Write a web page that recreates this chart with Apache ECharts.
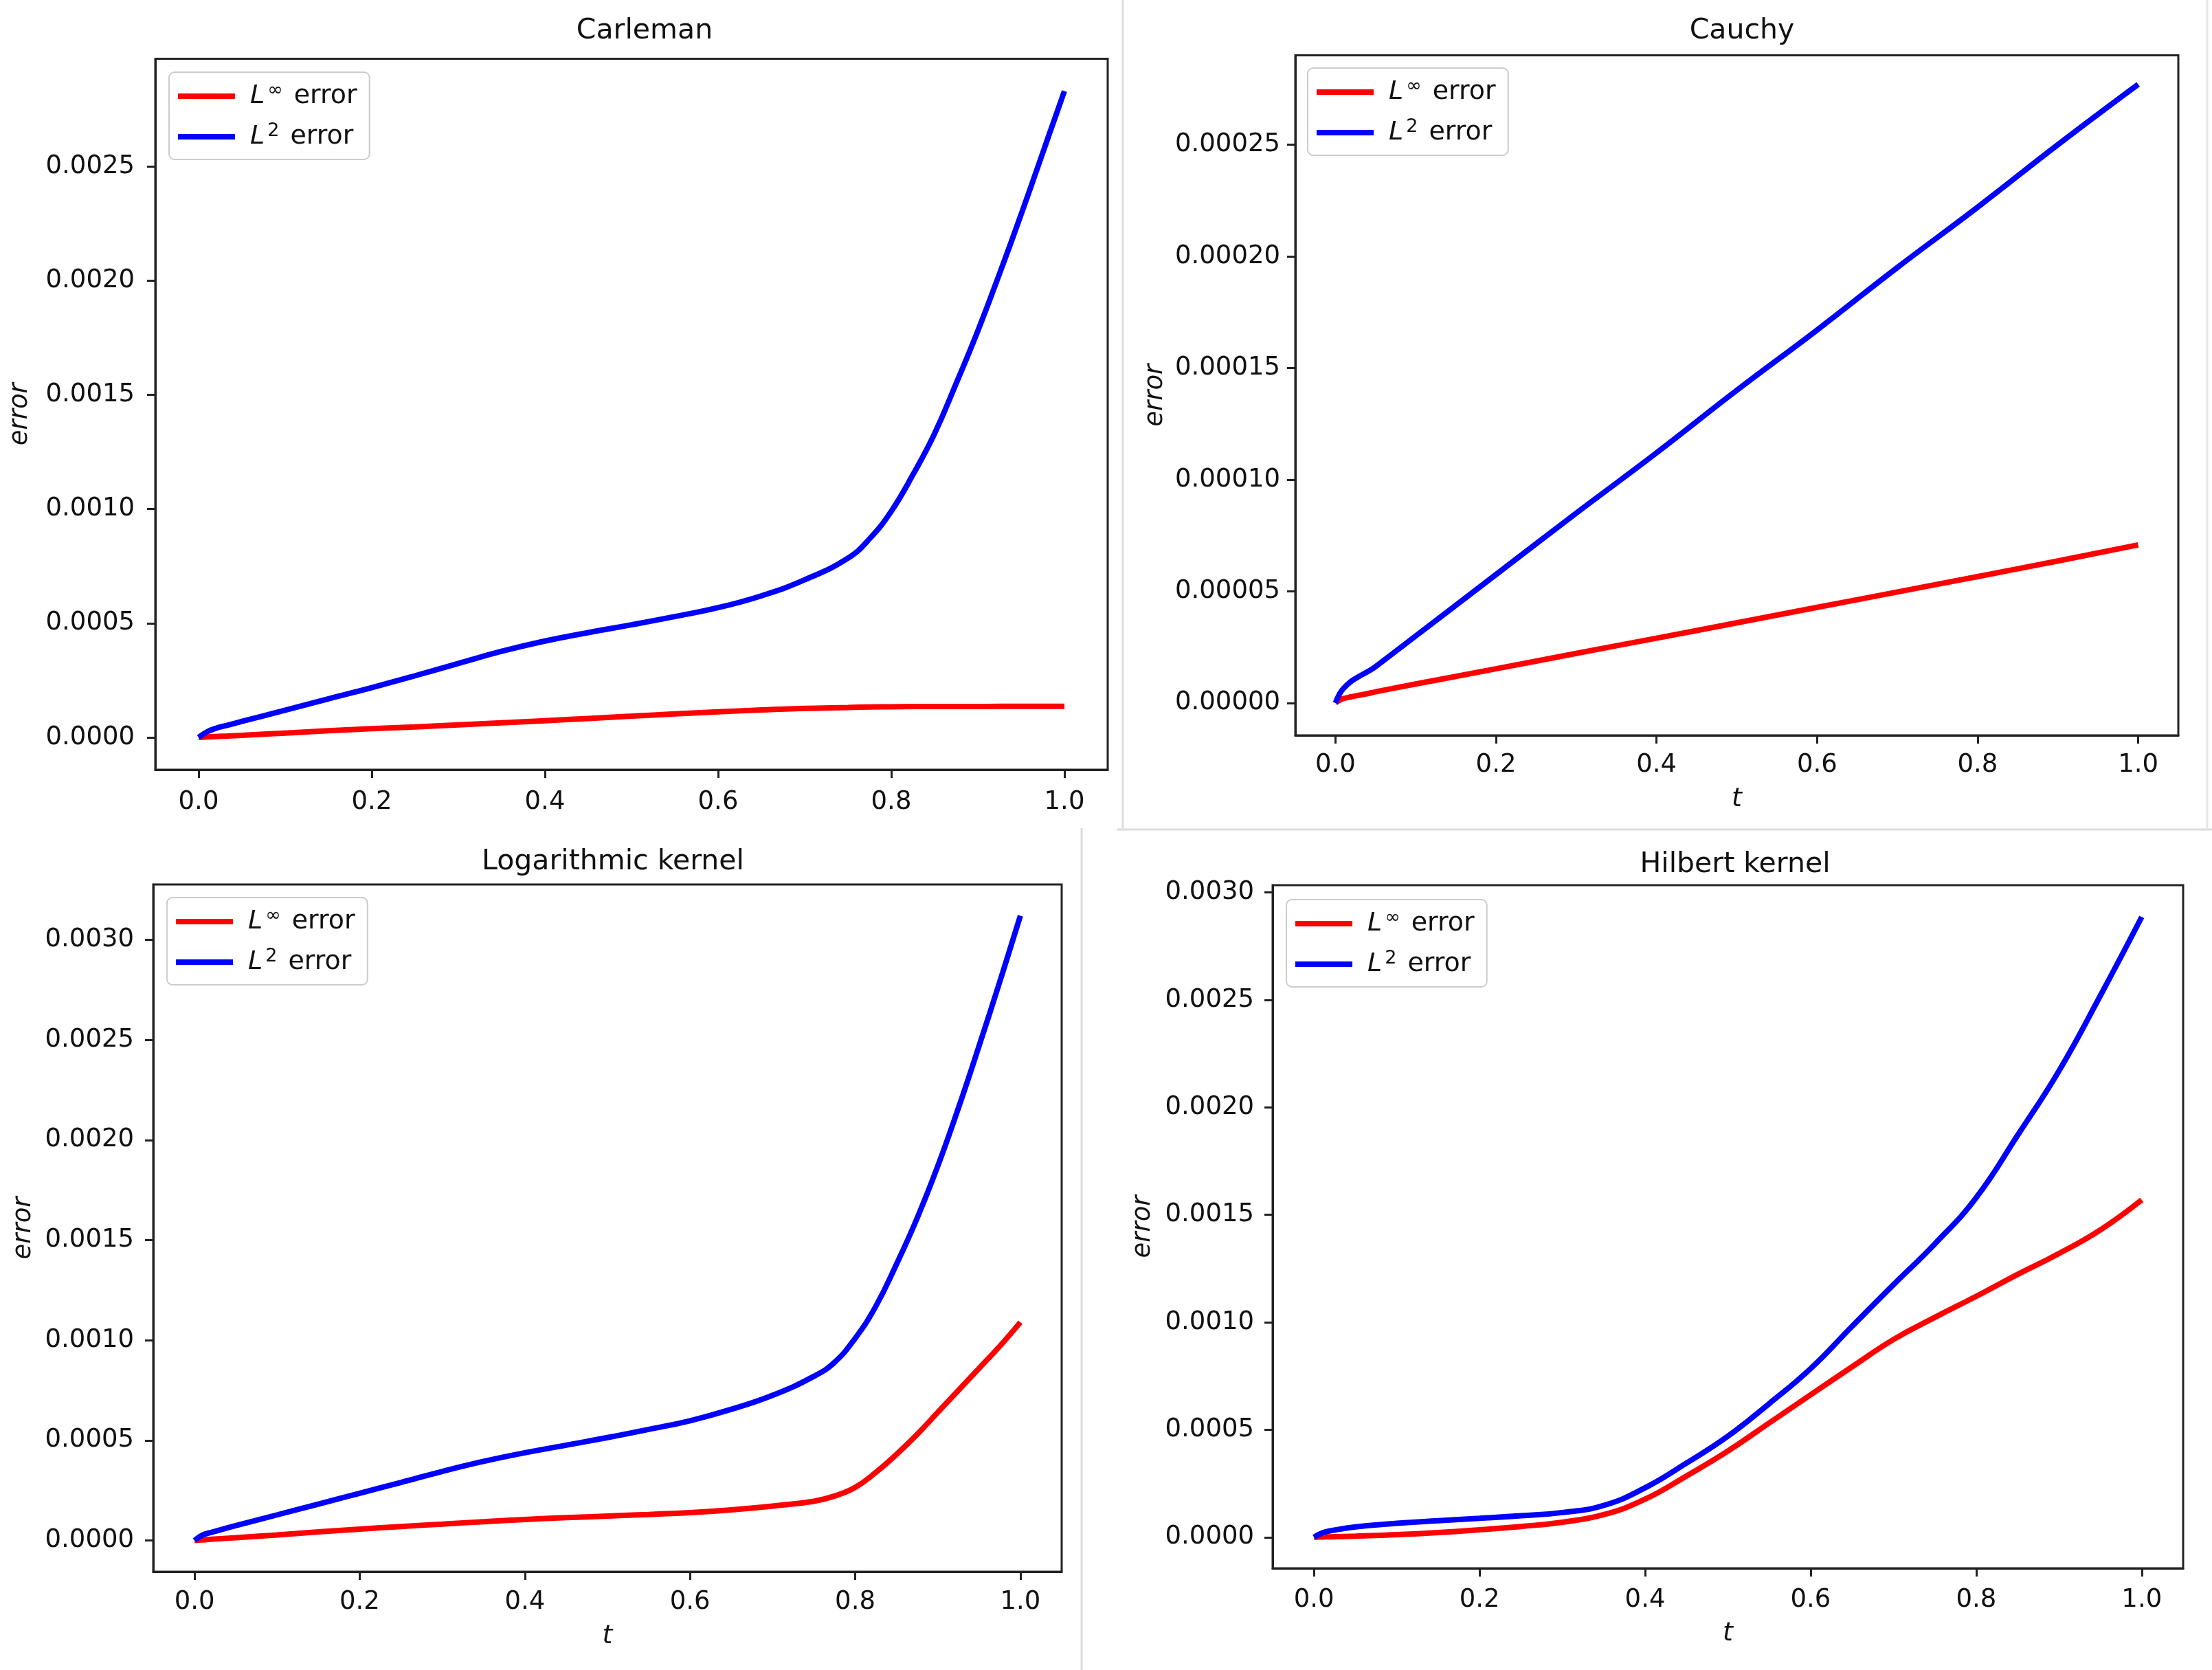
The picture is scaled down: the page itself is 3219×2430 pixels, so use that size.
<!DOCTYPE html>
<html>
<head>
<meta charset="utf-8">
<script src="https://cdn.jsdelivr.net/npm/echarts@6/dist/echarts.min.js"></script>
<style>
html,body{margin:0;padding:0;background:#ffffff;}
#chart{width:3219px;height:2430px;}
</style>
</head>
<body>
<div id="chart"></div>
<script>
// ---------- data ----------
const panelTitles = ['Carleman', 'Cauchy', 'Logarithmic kernel', 'Hilbert kernel'];
const xTickValues = [0, 0.2, 0.4, 0.6, 0.8, 1.0];

const carlemanT    = [0, 0.01, 0.02, 0.033, 0.05, 0.1, 0.15, 0.2, 0.25, 0.3, 0.35, 0.4, 0.45, 0.5, 0.55, 0.6, 0.65, 0.7, 0.75, 0.775, 0.8, 0.825, 0.85, 0.875, 0.9, 0.925, 0.95, 0.975, 1.0];
const carlemanLinf = [0, 0.000002, 0.000004, 0.000006, 0.000009, 0.000019, 0.000029, 0.000038, 0.000046, 0.000055, 0.000064, 0.000073, 0.000083, 0.000093, 0.000103, 0.000112, 0.00012, 0.000127, 0.000131, 0.000133, 0.000134, 0.000135, 0.000135, 0.000135, 0.000135, 0.000136, 0.000136, 0.000136, 0.000136];
const carlemanL2   = [0, 0.000025, 0.00004, 0.000053, 0.00007, 0.000119, 0.000169, 0.000218, 0.00027, 0.000324, 0.000377, 0.000422, 0.000459, 0.000493, 0.000529, 0.000568, 0.00062, 0.00069, 0.000785, 0.00087, 0.00099, 0.00115, 0.00133, 0.00155, 0.00178, 0.00203, 0.00229, 0.00256, 0.00283];
const carlemanYTicks = [0, 0.0005, 0.001, 0.0015, 0.002, 0.0025];

const cauchyT    = [0, 0.005, 0.01, 0.02, 0.03, 0.04, 0.05, 0.1, 0.2, 0.3, 0.4, 0.5, 0.6, 0.7, 0.8, 0.9, 1.0];
const cauchyLinf = [0, 0.0000012, 0.000002, 0.0000028, 0.0000035, 0.0000042, 0.000005, 0.0000085, 0.0000153, 0.0000222, 0.000029, 0.0000359, 0.0000428, 0.0000497, 0.0000566, 0.0000636, 0.0000708];
const cauchyL2   = [0, 0.000004, 0.0000065, 0.0000098, 0.000012, 0.000014, 0.0000163, 0.00003, 0.0000575, 0.000085, 0.000112, 0.00014, 0.000167, 0.000195, 0.000222, 0.00025, 0.000277];
const cauchyYTicks = [0, 0.00005, 0.0001, 0.00015, 0.0002, 0.00025];

const logT    = [0, 0.01, 0.02, 0.05, 0.1, 0.15, 0.2, 0.25, 0.3, 0.35, 0.4, 0.45, 0.5, 0.55, 0.6, 0.65, 0.7, 0.75, 0.775, 0.8, 0.825, 0.85, 0.875, 0.9, 0.925, 0.95, 0.975, 1.0];
const logLinf = [0, 0.000003, 0.000006, 0.000014, 0.000028, 0.000043, 0.000057, 0.00007, 0.000082, 0.000094, 0.000105, 0.000114, 0.000122, 0.00013, 0.000139, 0.000153, 0.000172, 0.000196, 0.000222, 0.000265, 0.00034, 0.00043, 0.00053, 0.00064, 0.00075, 0.00086, 0.00097, 0.00109];
const logL2   = [0, 0.000028, 0.00004, 0.000074, 0.000128, 0.000182, 0.000236, 0.00029, 0.000345, 0.000395, 0.000438, 0.000476, 0.000514, 0.000555, 0.000598, 0.000655, 0.000725, 0.00082, 0.00089, 0.00101, 0.00117, 0.00138, 0.00161, 0.00187, 0.00216, 0.00247, 0.00279, 0.00312];
const logYTicks = [0, 0.0005, 0.001, 0.0015, 0.002, 0.0025, 0.003];

const hilbertT    = [0, 0.01, 0.02, 0.05, 0.1, 0.15, 0.2, 0.25, 0.3, 0.35, 0.4, 0.45, 0.5, 0.55, 0.6, 0.65, 0.7, 0.75, 0.8, 0.85, 0.9, 0.95, 1.0];
const hilbertLinf = [0, 0.000001, 0.000002, 0.000005, 0.000012, 0.000022, 0.000035, 0.00005, 0.00007, 0.000105, 0.000177, 0.000285, 0.000401, 0.000532, 0.000663, 0.000793, 0.00092, 0.001023, 0.001121, 0.001223, 0.00132, 0.00143, 0.00157];
const hilbertL2   = [0, 0.00002, 0.00003, 0.000048, 0.000065, 0.000077, 0.000088, 0.0001, 0.000115, 0.000148, 0.00023, 0.000345, 0.00047, 0.000622, 0.000785, 0.000981, 0.001175, 0.001365, 0.00158, 0.00187, 0.00217, 0.00252, 0.002886];
const hilbertYTicks = [0, 0.0005, 0.001, 0.0015, 0.002, 0.0025, 0.003];

const seriesNames = ['L∞ error', 'L2 error'];

// ---------- layout ----------
const FONT = 'DejaVu Sans';
const INK = '#111111';
const panels = [
  { t: carlemanT, inf: carlemanLinf, l2: carlemanL2, yTicks: carlemanYTicks, dec: 4,
    grid: { left: 226, top: 85.5, width: 1386, height: 1034.5 }, yMin: -0.0001415, yMax: 0.0029715,
    title: [933, 40], legend: [246, 105], xName: '', yNameGap: 178, xNameGap: 74, xMargin: 29, yMargin: 30 },
  { t: cauchyT, inf: cauchyLinf, l2: cauchyL2, yTicks: cauchyYTicks, dec: 5,
    grid: { left: 1885, top: 80.5, width: 1285, height: 989.5 }, yMin: -0.0000145, yMax: 0.00029,
    title: [2530, 40], legend: [1903, 99], xName: 't', yNameGap: 185, xNameGap: 74, xMargin: 25, yMargin: 22 },
  { t: logT, inf: logLinf, l2: logL2, yTicks: logYTicks, dec: 4,
    grid: { left: 223, top: 1287, width: 1322, height: 1000 }, yMin: -0.000156, yMax: 0.003276,
    title: [887, 1249], legend: [243, 1306], xName: 't', yNameGap: 170, xNameGap: 75, xMargin: 26, yMargin: 28 },
  { t: hilbertT, inf: hilbertLinf, l2: hilbertL2, yTicks: hilbertYTicks, dec: 4,
    grid: { left: 1852, top: 1288, width: 1325, height: 994 }, yMin: -0.0001445, yMax: 0.003034,
    title: [2520, 1253], legend: [1872, 1309], xName: 't', yNameGap: 170, xNameGap: 76, xMargin: 28, yMargin: 27 }
];

function pairs(t, v) { return t.map((x, i) => [x, v[i]]); }

const option = {
  backgroundColor: '#ffffff',
  animation: false,
  title: [], grid: [], xAxis: [], yAxis: [], legend: [], series: [],
  graphic: [
    { type: 'line', shape: { x1: 1634, y1: 0, x2: 1634, y2: 1207 }, style: { stroke: '#dcdcdc', lineWidth: 3 } },
    { type: 'line', shape: { x1: 1625, y1: 1207, x2: 3219, y2: 1207 }, style: { stroke: '#dcdcdc', lineWidth: 3 } },
    { type: 'line', shape: { x1: 3212, y1: 0, x2: 3212, y2: 1207 }, style: { stroke: '#e6e6e6', lineWidth: 3 } },
    { type: 'line', shape: { x1: 1574, y1: 1205, x2: 1574, y2: 2430 }, style: { stroke: '#dcdcdc', lineWidth: 3 } }
  ]
};

const axisLineStyle = { color: '#222222', width: 3 };

panels.forEach((p, i) => {
  option.title.push({
    text: panelTitles[i], left: p.title[0], top: p.title[1],
    textAlign: 'center', textVerticalAlign: 'middle',
    textStyle: { fontFamily: FONT, fontSize: 41, fontWeight: 'normal', color: INK }
  });
  option.grid.push(Object.assign({ show: true, borderColor: '#222222', borderWidth: 3, backgroundColor: 'transparent', containLabel: false }, p.grid));
  option.xAxis.push({
    type: 'value', gridIndex: i, min: -0.05, max: 1.05,
    name: p.xName, nameLocation: 'middle', nameGap: p.xNameGap,
    nameTextStyle: { fontFamily: FONT, fontSize: 38, fontStyle: 'italic', color: INK },
    splitLine: { show: false },
    axisLine: { show: true, onZero: false, lineStyle: axisLineStyle },
    axisTick: { show: true, inside: false, length: 12, lineStyle: axisLineStyle, customValues: xTickValues },
    axisLabel: { fontFamily: FONT, fontSize: 37, color: INK, margin: p.xMargin, customValues: xTickValues,
      formatter: v => v.toFixed(1) }
  });
  option.yAxis.push({
    type: 'value', gridIndex: i, min: p.yMin, max: p.yMax,
    name: 'error', nameLocation: 'middle', nameGap: p.yNameGap, nameRotate: 90,
    nameTextStyle: { fontFamily: FONT, fontSize: 37, fontStyle: 'italic', color: INK },
    splitLine: { show: false },
    axisLine: { show: true, onZero: false, lineStyle: axisLineStyle },
    axisTick: { show: true, inside: false, length: 12, lineStyle: axisLineStyle, customValues: p.yTicks },
    axisLabel: { fontFamily: FONT, fontSize: 37, color: INK, margin: p.yMargin, customValues: p.yTicks,
      formatter: v => v.toFixed(p.dec) }
  });
  option.legend.push({
    orient: 'vertical', left: p.legend[0], top: p.legend[1],
    data: seriesNames, icon: 'rect', itemWidth: 83, itemHeight: 8, itemGap: 13,
    padding: [12, 18, 10, 13],
    backgroundColor: 'rgba(255,255,255,0.85)', borderColor: '#cccccc', borderWidth: 2, borderRadius: 8,
    selectedMode: false,
    formatter: name => name === seriesNames[0] ? '{i|L}{s|∞}{n| error}' : '{i|L}{s|2}{n| error}',
    textStyle: {
      fontFamily: FONT, fontSize: 38, color: INK, lineHeight: 46,
      rich: {
        i: { fontFamily: FONT, fontSize: 38, fontStyle: 'italic', color: INK, padding: [0, 0, 0, 17], lineHeight: 46 },
        s: { fontFamily: FONT, fontSize: 27, color: INK, verticalAlign: 'top', padding: [1, 4, 0, 4], lineHeight: 46 },
        n: { fontFamily: FONT, fontSize: 38, color: INK, lineHeight: 46 }
      }
    }
  });
  option.series.push({
    name: seriesNames[0], type: 'line', xAxisIndex: i, yAxisIndex: i,
    data: pairs(p.t, p.inf), showSymbol: false, symbol: 'none', smooth: 0.45,
    color: '#ff0000', lineStyle: { color: '#ff0000', width: 8 }, itemStyle: { color: '#ff0000' }, z: 3
  });
  option.series.push({
    name: seriesNames[1], type: 'line', xAxisIndex: i, yAxisIndex: i,
    data: pairs(p.t, p.l2), showSymbol: false, symbol: 'none', smooth: 0.45,
    color: '#0000ff', lineStyle: { color: '#0000ff', width: 8 }, itemStyle: { color: '#0000ff' }, z: 4
  });
});

const chart = echarts.init(document.getElementById('chart'), null, { renderer: 'canvas', width: 3219, height: 2430 });
chart.setOption(option);
</script>
</body>
</html>
